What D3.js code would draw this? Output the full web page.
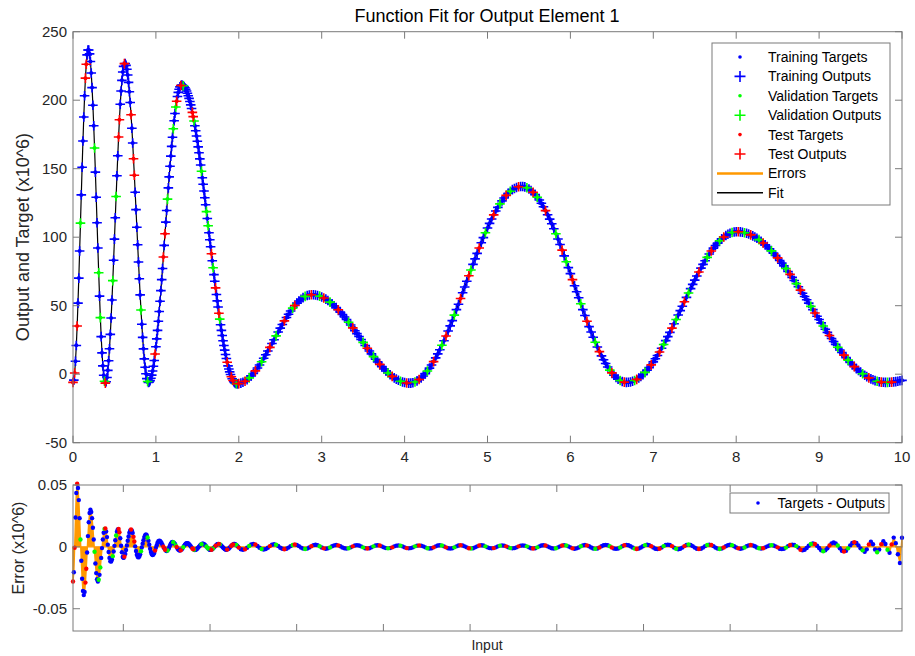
<!DOCTYPE html>
<html><head><meta charset="utf-8">
<script src="https://cdn.jsdelivr.net/npm/d3@7"></script>
<style>body{margin:0;background:#fff;} text{font-family:"Liberation Sans",Arial,Helvetica,sans-serif;}</style>
</head><body><svg id="c" width="915" height="656"></svg>
<script>
// ---------- DATA ----------
// Grid A: input 0.00 .. 2.00, step 0.01 ; Grid B: input 2.025 .. 10.0, step 0.025
const stepA = 0.01, startB = 2.025, stepB = 0.025;

// network outputs (x10^6), grid A
const outA = [
-6,-4.3,0.9,9.4,21.0,35.2,51.9,70.1,89.9,110.3,
130.9,151.1,170.2,187.7,203.3,216.1,226.2,233.1,236.6,236.6,
233.8,228.2,219.9,209.2,196.3,181.4,165.1,147.5,129.2,110.6,
92.1,74.1,57.0,41.3,27.4,15.6,6.1,-0.8,-5.1,-6.5,
-5.5,-2.4,2.8,9.8,18.6,29.1,41.0,54.2,68.3,83.2,
98.6,114.2,129.7,144.9,159.4,173.1,185.7,197.0,206.7,214.5,
220.6,224.7,226.7,226.8,225.4,222.6,218.4,213.0,206.2,198.3,
189.4,179.5,168.8,157.3,145.2,132.8,120.1,107.3,94.5,81.9,
69.7,57.9,46.9,36.5,26.9,18.5,11.2,5.1,0.3,-3.2,
-5.3,-6.0,-5.7,-4.7,-3.0,-0.7,2.3,5.8,10.0,14.7,
20.0,25.8,32.0,38.7,45.8,53.2,61.0,69.0,77.2,85.5,
94.0,102.5,111.0,119.5,127.8,136.0,144.0,151.8,159.2,166.3,
173.0,179.2,185.0,190.3,195.0,199.2,202.7,205.7,208.0,209.7,
210.7,211.0,210.9,210.5,209.9,209.1,208.0,206.7,205.1,203.3,
201.3,199.1,196.6,193.9,191.1,188.0,184.8,181.3,177.7,173.9,
170.0,165.9,161.6,157.2,152.7,148.1,143.4,138.6,133.7,128.8,
123.7,118.7,113.6,108.4,103.3,98.1,93.0,87.9,82.8,77.7,
72.7,67.8,63.0,58.2,53.5,49.0,44.5,40.2,36.1,32.0,
28.2,24.4,20.9,17.6,14.4,11.5,8.7,6.1,3.8,1.7,
-0.2,-1.9,-3.3,-4.6,-5.5,-6.2,-6.7,-7.0,-7.0,-7.0,
-6.9];

// network outputs (x10^6), grid B
const outB = [
-6.5,-5.9,-5.1,-4.0,-2.7,-1.2,0.5,2.4,4.5,6.7,9.1,11.6,14.2,16.9,19.6,22.4,25.2,28.0,30.8,33.6,
36.3,38.9,41.4,43.8,46.1,48.2,50.1,51.9,53.4,54.7,55.9,56.8,57.4,57.8,58.0,
58.0,57.8,57.4,57.0,56.4,55.6,54.8,53.8,52.6,51.4,50.0,48.6,47.0,45.3,43.6,41.8,39.9,37.9,35.9,33.8,
31.7,29.6,27.5,25.3,23.2,21.0,18.9,16.9,14.8,12.8,10.9,9.0,7.2,5.5,3.9,2.3,0.9,-0.4,-1.6,-2.7,
-3.6,-4.4,-5.1,-5.7,-6.1,-6.4,-6.5,
-6.5,-6.2,-5.7,-4.9,-3.9,-2.7,-1.3,0.4,2.3,4.4,6.7,9.2,11.9,14.8,
17.9,21.1,24.4,27.9,31.5,35.3,39.1,43.1,47.1,51.1,55.3,59.4,63.6,67.8,
71.9,76.1,80.2,84.2,88.2,92.1,96.0,99.7,103.3,106.7,110.1,113.3,116.3,119.1,
121.8,124.3,126.5,128.6,130.5,132.1,133.5,134.7,135.6,136.3,136.8,137.0,
137.0,136.7,136.1,135.2,134.1,132.8,131.1,129.2,127.1,124.8,122.2,119.4,116.4,113.2,
109.8,106.2,102.5,98.7,94.7,90.6,86.4,82.1,77.8,73.4,69.0,64.6,60.2,55.8,
51.4,47.1,42.9,38.7,34.7,30.8,27.0,23.3,19.8,16.5,13.4,10.5,7.8,5.3,
3.0,1.0,-0.8,-2.3,-3.6,-4.6,-5.3,-5.8,-6.0,
-5.9,-5.7,-5.2,-4.6,-3.8,-2.8,-1.6,-0.3,1.3,3.0,4.8,6.8,9.0,11.3,
13.7,16.2,18.9,21.7,24.5,27.4,30.5,33.6,36.8,39.9,43.2,46.4,49.6,52.9,
56.1,59.3,62.5,65.6,68.7,71.7,74.6,77.4,80.2,82.8,85.3,87.7,89.9,92.0,
93.9,95.7,97.4,98.8,100.1,101.2,102.2,102.9,103.4,103.8,104.0,
104.0,103.9,103.6,103.3,102.9,102.3,101.7,101.0,100.1,99.2,98.2,97.0,95.8,94.5,
93.1,91.6,90.0,88.4,86.7,84.9,83.0,81.1,79.1,77.1,75.0,72.9,70.7,68.4,
66.1,63.8,61.4,59.1,56.7,54.3,51.9,49.5,47.1,44.7,42.3,39.9,37.5,35.2,
32.8,30.5,28.3,26.1,23.9,21.8,19.7,17.7,15.8,13.9,12.1,10.3,8.6,7.0,
5.5,4.1,2.7,1.5,0.3,-0.8,-1.8,-2.7,-3.4,-4.1,-4.7,-5.2,-5.5,-5.8,-5.9,
-6.0,-6.0,-5.9,-5.8,-5.6,-5.4,-5.1,-4.8,-4.5];

// errors, targets - outputs, in thousandths of 10^6 (grid A)
const errA = [
-28,-20.5,-0.7,23.7,43.5,51,47.6,37.8,23.2,6.0,
-11.2,-25.8,-35.6,-39,-36.4,-28.9,-17.7,-4.5,8.7,19.9,
27.4,30,28.2,23.2,15.5,6.0,-4.0,-13.5,-21.2,-26.2,
-28,-26.6,-22.6,-16.6,-8.9,-1.0,6.0,11.4,14.5,14.8,
12.4,7.9,1.8,-4.2,-8.9,-11.6,-11.8,-10.3,-7.5,-3.7,
0.8,5.3,9.2,12.3,14.1,14.4,11.9,7.0,0.9,-4.4,
-8.2,-8.9,-7.9,-5.7,-2.5,1.1,5.0,8.4,11.5,13.3,
14,13.3,11.3,8.1,4.3,0.4,-3.3,-6.3,-8.0,-8.5,
-7.7,-6.0,-3.6,-0.5,2.6,5.4,7.9,9.5,10,9.4,
7.6,4.9,1.7,-1.5,-4.2,-6.0,-6.6,-6.2,-4.9,-3.0,
-0.8,1.4,3.3,4.6,5.0,4.8,4.0,2.9,1.6,0.1,
-1.2,-2.3,-3.0,-3.3,-2.9,-1.9,-0.5,1.2,2.6,3.6,
4.0,3.8,3.2,2.3,1.1,-0.1,-1.3,-2.2,-2.8,-3.0,
-2.8,-2.2,-1.3,-0.3,0.8,1.8,2.6,3.0,3.0,2.7,
2.1,1.4,0.5,-0.4,-1.3,-1.9,-2.4,-2.5,-2.4,-2.0,
-1.4,-0.6,0.2,1.0,1.7,2.2,2.5,2.5,2.2,1.7,
1.0,0.3,-0.6,-1.3,-1.9,-2.3,-2.4,-2.3,-1.9,-1.3,
-0.6,0.2,1.0,1.6,2.1,2.4,2.4,2.1,1.6,1.0,
0.2,-0.5,-1.2,-1.8,-2.2,-2.3,-2.2,-1.8,-1.3,-0.6,
0.2,0.9,1.6,2.0,2.3,2.3,2.0,1.6,0.9,0.2,
-0.6];

// errors (thousandths), grid B
const errB = [
-1.9,-2.3,-1.9,-0.7,0.7,1.9,2.3,1.9,0.7,-0.7,
-1.7,-2.1,-1.8,-0.7,0.6,1.7,2.1,1.7,0.7,-0.7,
-1.5,-1.9,-1.5,-0.6,0.6,1.5,1.9,1.6,0.6,-0.6,
-1.4,-1.7,-1.4,-0.5,0.5,1.4,1.7,1.4,0.5,-0.5,
-1.2,-1.5,-1.2,-0.5,0.5,1.2,1.5,1.2,0.5,-0.5,
-1.1,-1.4,-1.1,-0.4,0.4,1.1,1.4,1.1,0.4,-0.4,
-1.1,-1.3,-1.1,-0.4,0.4,1.1,1.3,1.1,0.4,-0.4,
-1.0,-1.2,-1.0,-0.4,0.4,1.0,1.2,1.0,0.4,-0.4,
-1.0,-1.2,-1.0,-0.4,0.4,1.0,1.2,1.0,0.4,-0.4,
-1.1,-1.3,-1.1,-0.4,0.4,1.1,1.3,1.1,0.4,-0.4,
-1.1,-1.4,-1.1,-0.4,0.4,1.1,1.4,1.1,0.4,-0.4,
-1.1,-1.3,-1.1,-0.4,0.4,1.1,1.3,1.1,0.4,-0.4,
-1.0,-1.2,-1.0,-0.4,0.4,1.0,1.2,1.0,0.4,-0.4,
-1.0,-1.2,-1.0,-0.4,0.4,1.0,1.2,1.0,0.4,-0.4,
-1.1,-1.3,-1.1,-0.4,0.4,1.1,1.3,1.1,0.4,-0.4,
-1.1,-1.4,-1.1,-0.4,0.4,1.1,1.4,1.1,0.4,-0.4,
-1.2,-1.5,-1.2,-0.5,0.5,1.2,1.5,1.2,0.5,-0.5,
-1.3,-1.6,-1.3,-0.5,0.5,1.3,1.6,1.3,0.5,-0.5,
-1.3,-1.6,-1.3,-0.5,0.5,1.3,1.6,1.3,0.5,-0.5,
-1.4,-1.7,-1.4,-0.5,0.5,1.4,1.7,1.4,0.5,-0.5,
-1.5,-1.8,-1.5,-0.6,0.6,1.5,1.8,1.5,0.6,-0.6,
-1.5,-1.9,-1.5,-0.6,0.6,1.5,1.9,1.5,0.6,-0.6,
-1.5,-1.8,-1.5,-0.6,0.6,1.5,1.8,1.5,0.6,-0.6,
-1.4,-1.7,-1.4,-0.5,0.5,1.4,1.7,1.4,0.5,-0.5,
-1.2,-1.5,-1.2,-0.5,0.5,1.2,1.5,1.2,0.5,-0.5,
-1.1,-1.4,-1.1,-0.4,0.4,1.1,1.4,1.1,0.4,-0.4,
-1.5,-1.8,-1.5,-0.6,0.6,1.5,1.8,1.5,0.6,-0.6,
-2.3,-2.8,-2.3,-0.9,0.9,2.3,2.8,2.3,0.9,-0.9,
-2.8,-3.5,-2.8,-1.1,1.1,2.8,3.5,2.8,1.1,-1.1,
-3.1,-3.8,-3.1,-1.2,1.2,3.1,3.8,3.1,1.2,-1.2,
-2.8,-4.0,-2.0,2.0,4.2,2.1,-2.1,-4.4,-2.2,2.2,
4.6,2.3,-2.3,-4.8,2.0,7.5,3.0,-6.0,-13.0,7.4];

// data division of every sample: b = training, g = validation, r = test
const setA =
"rbrbbrbbbg"+"bbbbbrrbbb"+"bbbbbbgbbb"+"bgbgbbbbgr"+"bbbbbbbbgb"+
"bbgbbrrbbb"+"bbrbbbbbbb"+"rbbrrbbbbb"+"bbgbbbbbbb"+"gbbbbbbbbr"+
"bbbbbbbbbr"+"brbbgbbbbb"+"bgbbgrbbbb"+"rbbgbbbbbb"+"bbbbrrgbbb"+
"bbbbbgbbbb"+"bgbgbbbrbg"+"bbrbbbrgbb"+"bbbbbbrbbb"+"brbrbbbgbb"+"r";
const setB =
"bbrbgbbrbb"+"gbbbrbbgbb"+"brbbbgrbbb"+"bgbbrbbbgb"+"rbbgbbbrbb"+
"bbgbrbbbbg"+"brbbgbbrbb"+"bgbrbbbgbb"+"rbbbgbrbbb"+"gbbrbbbgbr"+
"bbbgbbrbbb"+"rgbbbrbbgb"+"bbrbbgbbrb"+"gbbbrbbbgb"+"brbgbbbrbb"+
"bbgbbrbgbb"+"rbbbgbbrbb"+"bgbrbbbbgr"+"bbbgbrbbbb"+"grbbbgbbrb"+
"bbrbgbbbrb"+"gbbbrbgbbb"+"brbbbgbrbb"+"bgbrbbbgbb"+"rbbgbbrbbb"+
"gbrbbbgbbr"+"bbbgbrbbgb"+"rbbbbgbrbb"+"bgbbrbbbgb"+"brbgbbrbbb"+
"gbbrbbbgbr"+"bbgbrbbbbb";

const xTicks = [0,1,2,3,4,5,6,7,8,9,10];
const yTicks = [-50,0,50,100,150,200,250];
const errYTicks = [-50,0,50];
const errYTickLabels = ["-0.05","0","0.05"];
const errXTicks = [0.607,1.653,2.698,3.744,4.790,5.836,6.882,7.927,8.973];

const legendTop = ["Training Targets","Training Outputs","Validation Targets","Validation Outputs","Test Targets","Test Outputs","Errors","Fit"];
const legendBottom = ["Targets - Outputs"];

// ---------- DRAWING ----------
const COLORS = {b:"#0000ff", g:"#00ff00", r:"#ff0000"};
const AX = "#7a7a7a", TXT = "#262626";
const svg = d3.select("#c");
svg.append("rect").attr("width",915).attr("height",656).attr("fill","#fff");

const X0 = 73, X1 = 902;
const x = d3.scaleLinear().domain([0,10]).range([X0,X1]);
const y = d3.scaleLinear().domain([-50,250]).range([442.7,31.7]);
const ye = d3.scaleLinear().domain([-68,50]).range([631,485]);

const samples = [];
outA.forEach((v,i)=>samples.push({x:+(i*stepA).toFixed(3), out:v, err:errA[i], set:setA[i]||"b"}));
outB.forEach((v,i)=>samples.push({x:+(startB+i*stepB).toFixed(3), out:v, err:errB[i]||0, set:setB[i]||"b"}));

// ===== top axes =====
const gTop = svg.append("g");
gTop.append("path").datum(samples)
  .attr("d", d3.line().x(d=>x(d.x)).y(d=>y(d.out)))
  .attr("fill","none").attr("stroke","#000").attr("stroke-width",1.2);

const plus = (s)=>`M${-s},0H${s}M0,${-s}V${s}`;
["b","g","r"].forEach(k=>{
  const sub = samples.filter(d=>d.set===k);
  gTop.append("g").selectAll("circle").data(sub).join("circle")
    .attr("cx",d=>x(d.x)).attr("cy",d=>y(d.out + d.err/1000)).attr("r",2)
    .attr("fill",COLORS[k]);
  gTop.append("g").selectAll("path").data(sub).join("path")
    .attr("transform",d=>`translate(${x(d.x)},${y(d.out)})`)
    .attr("d",plus(4.8)).attr("stroke",COLORS[k]).attr("stroke-width",1.6).attr("fill","none");
});

function box(yScale, yT, yLab, xT, showXLabels){
  const g = svg.append("g");
  const [yb, yt] = yScale.range();
  g.append("rect").attr("x",X0).attr("y",yt).attr("width",X1-X0).attr("height",yb-yt)
    .attr("fill","none").attr("stroke",AX).attr("stroke-width",1);
  const tl = 7;
  xT.forEach(t=>{
    const px = x(t);
    g.append("line").attr("x1",px).attr("x2",px).attr("y1",yb).attr("y2",yb-tl).attr("stroke",AX);
    g.append("line").attr("x1",px).attr("x2",px).attr("y1",yt).attr("y2",yt+tl).attr("stroke",AX);
  });
  yT.forEach((t,i)=>{
    const py = yScale(t);
    g.append("line").attr("x1",X0).attr("x2",X0+tl).attr("y1",py).attr("y2",py).attr("stroke",AX);
    g.append("line").attr("x1",X1).attr("x2",X1-tl).attr("y1",py).attr("y2",py).attr("stroke",AX);
    g.append("text").attr("x",X0-6).attr("y",py).attr("dy","0.35em").attr("text-anchor","end")
      .attr("font-size",15).attr("fill",TXT).text(yLab[i]);
  });
  if(showXLabels){
    xT.forEach(t=>{
      g.append("text").attr("x",x(t)).attr("y",yb+19).attr("text-anchor","middle")
        .attr("font-size",15).attr("fill",TXT).text(String(t));
    });
  }
}
box(y, yTicks, yTicks.map(String), xTicks, true);

// ===== bottom axes (errors) =====
const gBot = svg.append("g");
gBot.append("path").datum(samples)
  .attr("d", d3.area().x(d=>x(d.x)).y0(ye(0)).y1(d=>ye(d.err)))
  .attr("fill","#ff9900").attr("stroke","#ff9900").attr("stroke-width",1.4);
["b","g","r"].forEach(k=>{
  gBot.append("g").selectAll("circle").data(samples.filter(d=>d.set===k)).join("circle")
    .attr("cx",d=>x(d.x)).attr("cy",d=>ye(d.err)).attr("r",2.2).attr("fill",COLORS[k]);
});
box(ye, errYTicks, errYTickLabels, errXTicks, false);

// ===== texts =====
svg.append("text").attr("x",487).attr("y",22).attr("text-anchor","middle")
  .attr("font-size",18).attr("fill","#000").text("Function Fit for Output Element 1");
svg.append("text").attr("transform","translate(29,237) rotate(-90)").attr("text-anchor","middle")
  .attr("font-size",18).attr("fill",TXT).text("Output and Target (x10^6)");
svg.append("text").attr("transform","translate(24,548) rotate(-90)").attr("text-anchor","middle")
  .attr("font-size",16).attr("fill",TXT).text("Error (x10^6)");
svg.append("text").attr("x",487).attr("y",650).attr("text-anchor","middle")
  .attr("font-size",14).attr("fill",TXT).text("Input");

// ===== legends =====
const lg = svg.append("g");
lg.append("rect").attr("x",712).attr("y",43).attr("width",178).attr("height",162)
  .attr("fill","#fff").attr("stroke",AX);
const legKeys = ["b","b","g","g","r","r"];
legendTop.forEach((name,i)=>{
  const cy = 57 + i*19.4;
  if(i<6){
    const c = COLORS[legKeys[i]];
    if(i%2===0) lg.append("circle").attr("cx",740).attr("cy",cy).attr("r",1.8).attr("fill",c);
    else lg.append("path").attr("transform",`translate(740,${cy})`).attr("d",plus(5.5))
      .attr("stroke",c).attr("stroke-width",1.6);
  } else {
    lg.append("line").attr("x1",717).attr("x2",763).attr("y1",cy).attr("y2",cy)
      .attr("stroke", i===6 ? "#ff9900" : "#000").attr("stroke-width", i===6 ? 2.5 : 1.4);
  }
  lg.append("text").attr("x",768).attr("y",cy).attr("dy","0.35em").attr("font-size",14)
    .attr("fill","#000").text(name);
});
const lb = svg.append("g");
lb.append("rect").attr("x",730).attr("y",493).attr("width",159).attr("height",20)
  .attr("fill","#fff").attr("stroke",AX);
lb.append("circle").attr("cx",758).attr("cy",503).attr("r",1.8).attr("fill",COLORS.b);
lb.append("text").attr("x",885).attr("y",503).attr("dy","0.35em").attr("text-anchor","end")
  .attr("font-size",14).attr("fill","#000").text(legendBottom[0]);
</script></body></html>
